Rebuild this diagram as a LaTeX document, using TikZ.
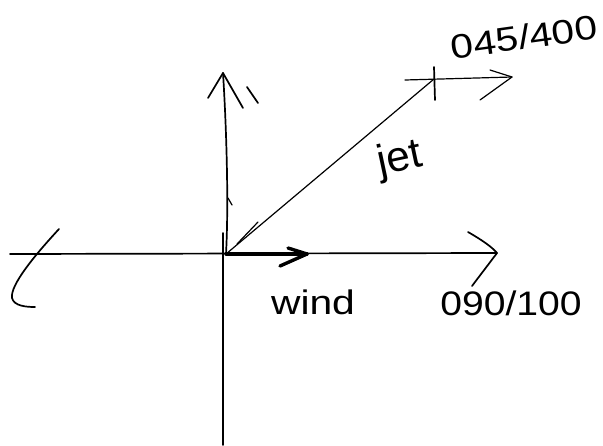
\documentclass[tikz,border=0pt]{standalone}
\usepackage{fontspec}
\setmainfont{Liberation Sans}
\begin{document}
\begin{tikzpicture}[x=1pt,y=-1pt, line cap=round, line join=round,
  pen/.style={line width=1.7pt},
  finepen/.style={line width=1.2pt},
  heavypen/.style={line width=3.4pt},
  lbl/.style={inner sep=0pt, font=\fontsize{34}{34}\selectfont}]
\useasboundingbox[fill=white] (0,0) rectangle (603,445);
% key points
\coordinate (O) at (226,254);
\coordinate (xl) at (10,254);
\coordinate (xr) at (497,253);
\coordinate (yt) at (223,73);
\coordinate (yb) at (223,445);
\coordinate (ybt) at (223,233);
\coordinate (J) at (434,79);
\coordinate (W) at (307,254);
\coordinate (hl) at (405,80);
\coordinate (hr) at (512,77);
% horizontal axis
\draw[pen] (xl) -- (xr);
\draw[pen] (468,232) .. controls (482,240) and (492,247) .. (xr) .. controls (488,265) and (478,278) .. (472,286);
\draw[pen] (59,229) .. controls (35,255) and (10,285) .. (12,298) .. controls (14,306) and (26,307) .. (35,307);
% vertical axis
\draw[pen] (yb) -- (ybt);
\draw[pen] (O) .. controls (229,200) and (226,120) .. (yt);
\draw[pen] (208,98) -- (yt) -- (243,108);
\draw[pen] (247,87) -- (258,103);
\draw[finepen] (228,198) -- (232,205);
% wind vector
\draw[heavypen] (O) -- (W);
\draw[heavypen] (288,248) -- (W) -- (280,266);
% jet vector
\draw[finepen] (O) -- (J);
\draw[finepen] (237,244) -- (258,222);
\draw[pen] (J) ++(0,-12) -- ++(1,33);
\draw[finepen] (hl) -- (hr);
\draw[finepen] (490,70) -- (hr) -- (480,100);
% labels
\node[lbl, rotate=8, xscale=1.2] (t045) at (524,37) {045/400};
\node[lbl, rotate=12, scale=1.25] (tjet) at (400,160) {jet};
\node[lbl, xscale=1.2] (twind) at (313,302) {wind};
\node[lbl, xscale=1.15] (t090) at (511,303) {090/100};
\end{tikzpicture}
\end{document}
